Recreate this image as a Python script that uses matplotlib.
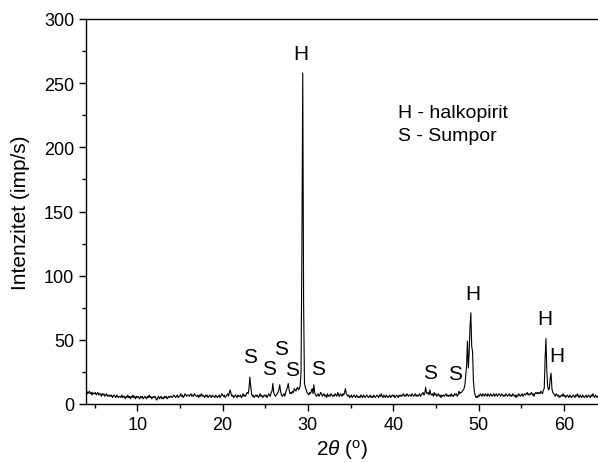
import numpy as np
import matplotlib.pyplot as plt
from matplotlib.ticker import MultipleLocator

plt.rcParams['font.family'] = ['Liberation Sans', 'DejaVu Sans']
plt.rcParams['mathtext.fontset'] = 'custom'
plt.rcParams['mathtext.rm'] = 'Liberation Sans'
plt.rcParams['mathtext.it'] = 'Liberation Sans:italic'

# XRD pattern, 2theta from 4 to 64 deg, step 0.1
two_theta_start = 4.0
two_theta_step = 0.1
intensity = [
    9, 10, 8, 9, 10, 8, 9, 7, 9, 8,        # 4
    8, 9, 7, 8, 9, 7, 8, 8, 6, 8,          # 5
    7, 8, 6, 7, 8, 6, 7, 6, 7, 6,          # 6
    7, 5, 6, 7, 6, 5, 7, 6, 5, 6,          # 7
    6, 5, 7, 5, 6, 6, 4, 6, 5, 7,          # 8
    5, 6, 4, 6, 5, 7, 5, 6, 4, 6,          # 9
    5, 6, 5, 4, 6, 5, 6, 4, 5, 6,          # 10
    5, 4, 6, 5, 7, 5, 6, 4, 5, 6,          # 11
    5, 6, 4, 3, 5, 6, 4, 5, 6, 4,          # 12
    5, 4, 6, 5, 6, 4, 5, 6, 5, 6,          # 13
    6, 5, 6, 7, 6, 5, 6, 7, 5, 6,          # 14
    6, 8, 6, 7, 5, 6, 8, 7, 6, 7,          # 15
    7, 6, 7, 8, 6, 7, 6, 8, 7, 6,          # 16
    6, 7, 5, 7, 6, 8, 6, 7, 6, 5,          # 17
    7, 6, 7, 5, 6, 7, 6, 5, 7, 6,          # 18
    6, 5, 7, 6, 5, 6, 7, 5, 6, 8,          # 19
    7, 6, 7, 5, 6, 7, 8, 6, 9, 11,         # 20
    8, 6, 7, 5, 6, 7, 6, 5, 7, 6,          # 21
    6, 7, 5, 6, 8, 6, 7, 6, 8, 9,          # 22
    8, 12, 21, 14, 8, 6, 7, 5, 6, 7,       # 23
    6, 7, 5, 6, 8, 6, 7, 5, 6, 7,          # 24
    6, 7, 5, 6, 8, 7, 6, 9, 10, 16,        # 25
    9, 7, 6, 7, 8, 9, 11, 15, 10, 7,       # 26
    6, 7, 8, 6, 9, 11, 13, 16, 11, 8,      # 27
    9, 8, 10, 9, 12, 11, 10, 12, 13, 11,   # 28
    12, 14, 25, 120, 258, 80, 16, 13, 11, 9,  # 29
    8, 7, 9, 8, 10, 12, 8, 15, 9, 7,       # 30
    6, 7, 8, 6, 7, 9, 8, 6, 7, 8,          # 31
    6, 7, 5, 8, 6, 7, 6, 8, 7, 6,          # 32
    7, 6, 8, 7, 6, 9, 7, 6, 8, 7,          # 33
    6, 8, 7, 9, 12, 8, 7, 6, 7, 5,         # 34
    6, 7, 5, 6, 7, 6, 5, 7, 6, 5,          # 35
    6, 5, 7, 6, 5, 7, 6, 5, 6, 7,          # 36
    6, 5, 6, 7, 5, 6, 5, 7, 6, 5,          # 37
    6, 7, 6, 5, 7, 6, 8, 6, 5, 7,          # 38
    6, 5, 7, 6, 5, 6, 7, 5, 6, 7,          # 39
    6, 7, 5, 6, 7, 6, 5, 7, 6, 7,          # 40
    6, 7, 8, 6, 7, 6, 8, 7, 6, 7,          # 41
    7, 6, 8, 7, 6, 7, 8, 6, 7, 6,          # 42
    7, 8, 6, 7, 8, 9, 7, 8, 13, 9,         # 43
    8, 9, 7, 11, 8, 7, 8, 6, 9, 7,         # 44
    8, 6, 7, 8, 6, 7, 5, 7, 6, 7,          # 45
    6, 7, 8, 6, 7, 6, 7, 6, 8, 6,          # 46
    7, 6, 8, 7, 8, 6, 7, 10, 8, 9,         # 47
    9, 10, 11, 12, 15, 22, 30, 49, 28, 40, # 48
    60, 71, 45, 41, 18, 10, 7, 5, 6, 5,    # 49
    7, 6, 8, 7, 6, 8, 7, 6, 8, 7,          # 50
    6, 8, 7, 6, 8, 7, 6, 7, 8, 6,          # 51
    7, 8, 6, 7, 8, 7, 6, 8, 7, 6,          # 52
    7, 6, 8, 7, 6, 7, 8, 6, 7, 6,          # 53
    8, 7, 6, 7, 5, 7, 6, 8, 7, 6,          # 54
    7, 8, 6, 7, 8, 7, 8, 9, 7, 8,          # 55
    7, 8, 9, 7, 8, 6, 8, 9, 8, 9,          # 56
    8, 9, 8, 10, 9, 8, 11, 12, 35, 51,     # 57
    26, 14, 11, 12, 20, 24, 12, 9, 8, 7,   # 58
    6, 8, 7, 6, 7, 5, 6, 7, 6, 8,          # 59
    6, 7, 5, 6, 7, 6, 5, 7, 6, 5,          # 60
    6, 7, 6, 5, 7, 6, 8, 6, 5, 7,          # 61
    6, 5, 7, 6, 5, 6, 7, 5, 6, 7,          # 62
    6, 5, 7, 6, 8, 6, 5, 7, 6, 5,          # 63
    6,
]

# phase labels: text, 2theta, intensity position
peak_labels = ['H', 'S', 'S', 'S', 'S', 'S', 'S', 'S', 'H', 'H', 'H']
peak_label_x = [29.2, 23.2, 25.5, 26.9, 28.2, 31.2, 44.3, 47.3, 49.3, 57.8, 59.2]
peak_label_y = [273, 37, 28, 43, 27, 28, 24.7, 24, 86, 67, 38]

legend_lines = ['H - halkopirit', 'S - Sumpor']

x = two_theta_start + two_theta_step * np.arange(len(intensity))

fig = plt.figure(figsize=(5.98, 4.64), dpi=100)
ax = fig.add_axes([86/598, 59/464, 512/598, 385/464])
ax.plot(x, intensity, color='black', lw=0.8)

for t, px, py in zip(peak_labels, peak_label_x, peak_label_y):
    ax.text(px, py, t, fontsize=15, ha='center', va='center')

ax.text(40.6, 227, legend_lines[0], fontsize=14, va='center')
ax.text(40.6, 209, legend_lines[1], fontsize=14, va='center')

ax.set_xlim(4, 64)
ax.set_ylim(0, 300)
ax.xaxis.set_major_locator(MultipleLocator(10))
ax.xaxis.set_minor_locator(MultipleLocator(5))
ax.yaxis.set_major_locator(MultipleLocator(50))
ax.yaxis.set_minor_locator(MultipleLocator(25))
ax.tick_params(which='major', length=5, width=1, labelsize=13, direction='out')
ax.tick_params(which='minor', length=3, width=1, direction='out')
ax.spines['right'].set_visible(False)
for s in ['left', 'bottom', 'top']:
    ax.spines[s].set_linewidth(1)

ax.set_xlabel(r'$2\theta$ $(^{\mathrm{o}})$', fontsize=15, labelpad=3)
ax.set_ylabel('Intenzitet (imp/s)', fontsize=15, labelpad=10)

fig.savefig('out.png', dpi=100)
